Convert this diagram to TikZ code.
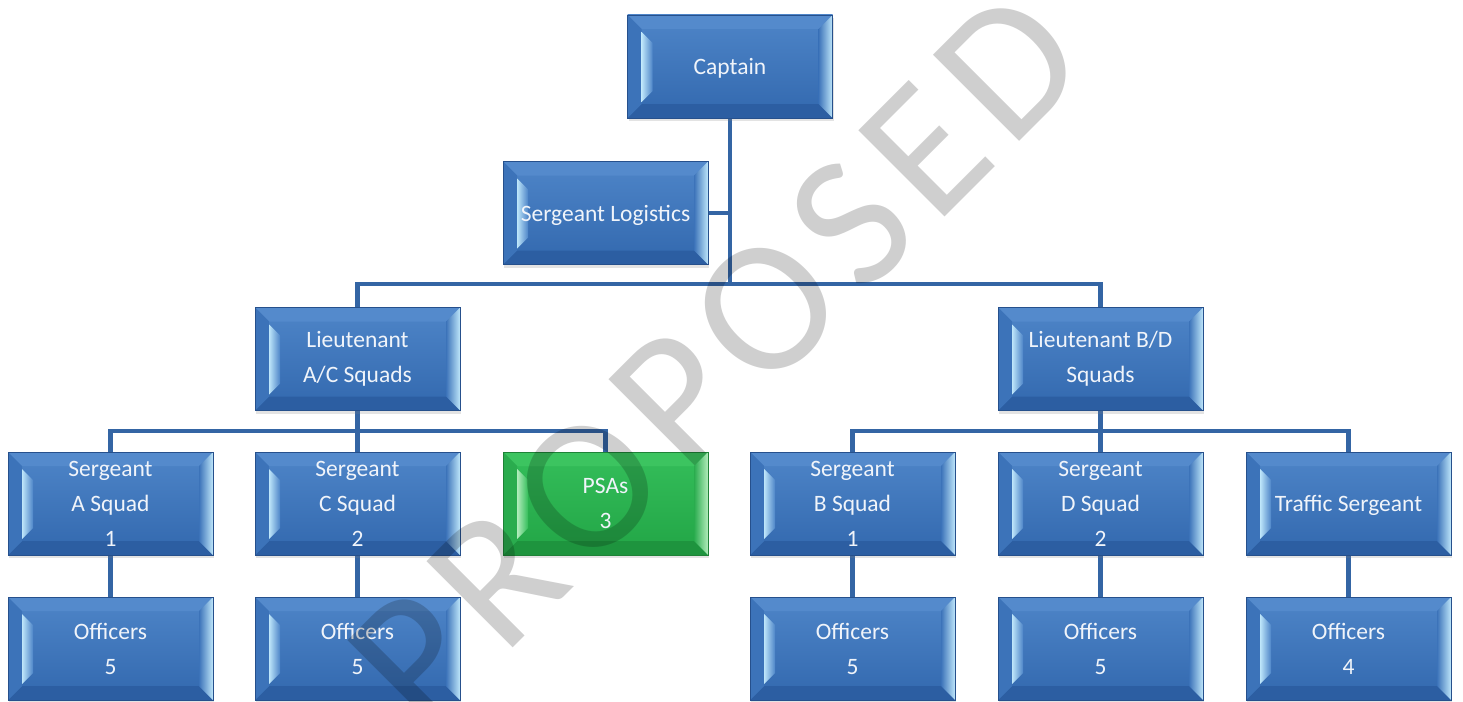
\documentclass[tikz,border=0pt]{standalone}
\usepackage{fontspec}
\setmainfont{Carlito}
\usetikzlibrary{calc,shadows}
\pgfdeclarelayer{bg}\pgfdeclarelayer{fg}
\pgfsetlayers{bg,main,fg}
\definecolor{lineblue}{RGB}{52,101,164}
\definecolor{btop}{RGB}{78,133,200}
\definecolor{bbot}{RGB}{50,104,174}
\definecolor{btopf}{RGB}{84,138,204}
\definecolor{bbotf}{RGB}{44,94,162}
\definecolor{bleft}{RGB}{60,115,185}
\definecolor{blight}{RGB}{190,230,250}
\definecolor{boxedge}{RGB}{38,80,140}
\definecolor{gtop}{RGB}{52,190,90}
\definecolor{gbot}{RGB}{34,165,70}
\definecolor{gtopf}{RGB}{60,196,96}
\definecolor{gbotf}{RGB}{30,148,62}
\definecolor{gleft}{RGB}{42,172,78}
\definecolor{glight}{RGB}{178,236,188}
\definecolor{gedge}{RGB}{30,130,55}
\definecolor{boxtext}{RGB}{240,244,250}
\newcommand\wmk{\kern14pt}
\newcommand\bevelpaint[6]{%
  \coordinate (bNW) at (path picture bounding box.north west);
  \coordinate (bSE) at (path picture bounding box.south east);
  \coordinate (bNE) at (path picture bounding box.north east);
  \coordinate (bSW) at (path picture bounding box.south west);
  \shade[top color=#1,bottom color=#2] (bNW) rectangle (bSE);
  \fill[#3] (bNW) -- (bNE) -- ($(bNE)+(-14pt,-14pt)$) -- ($(bNW)+(14pt,-14pt)$) -- cycle;
  \fill[#4] (bSW) -- (bSE) -- ($(bSE)+(-14pt,14pt)$) -- ($(bSW)+(14pt,14pt)$) -- cycle;
  \fill[#5] (bNW) -- (bSW) -- ($(bSW)+(14pt,14pt)$) -- ($(bNW)+(14pt,-14pt)$) -- cycle;
  \shade[left color=#5, right color=#6] (bNE) -- (bSE) -- ($(bSE)+(-14pt,14pt)$) -- ($(bNE)+(-14pt,-14pt)$) -- cycle;
  \shade[left color=#6, right color=#1] ($(bNW)+(14pt,-17pt)$) -- ($(bNW)+(25pt,-28pt)$) -- ($(bSW)+(25pt,27pt)$) -- ($(bSW)+(14pt,16pt)$) -- cycle;
}
\tikzset{
  box/.style={rectangle, minimum width=205pt, minimum height=103pt, inner sep=0pt,
    align=center, text=boxtext, font=\fontsize{23.5}{35}\selectfont,
    draw=boxedge, line width=0.8pt,
    drop shadow={shadow xshift=1pt, shadow yshift=-3pt, opacity=0.22}},
  bluebox/.style={box, path picture={\bevelpaint{btop}{bbot}{btopf}{bbotf}{bleft}{blight}}},
  greenbox/.style={box, draw=gedge, path picture={\bevelpaint{gtop}{gbot}{gtopf}{gbotf}{gleft}{glight}}},
  oneline/.style={text depth=0pt},
  conn/.style={draw=lineblue, line width=4.5pt},
  watermark/.style={rotate=45, text=black, text opacity=0.19, inner sep=0pt,
    font=\fontsize{190}{190}\selectfont}
}
\begin{document}
\begin{tikzpicture}[x=1pt,y=-1pt]
\useasboundingbox (0,0) rectangle (1463,701);
% boxes
\node[bluebox,oneline] (cap) at (730,66.5) {Captain};
\node[bluebox,oneline] (sl) at (605.5,213) {Sergeant Logistics};
\node[bluebox] (ltac) at (357.5,359) {Lieutenant\\A/C Squads};
\node[bluebox] (ltbd) at (1100.5,359) {Lieutenant B/D\\Squads};
\node[bluebox] (sa) at (110.5,503.5) {Sergeant\\A Squad\\1};
\node[bluebox] (sc) at (357.5,503.5) {Sergeant\\C Squad\\2};
\node[greenbox] (psa) at (605.5,503.5) {PSAs\\3};
\node[bluebox] (sb) at (852.5,503.5) {Sergeant\\B Squad\\1};
\node[bluebox] (sd) at (1100.5,503.5) {Sergeant\\D Squad\\2};
\node[bluebox,oneline] (ts) at (1348.5,503.5) {Traffic Sergeant};
\node[bluebox] (oa) at (110.5,648.5) {Officers\\5};
\node[bluebox] (oc) at (357.5,648.5) {Officers\\5};
\node[bluebox] (ob) at (852.5,648.5) {Officers\\5};
\node[bluebox] (od) at (1100.5,648.5) {Officers\\5};
\node[bluebox] (ot) at (1348.5,648.5) {Officers\\4};
% connectors
\coordinate (bus1) at (730,284);
\coordinate (bus2) at (357.5,431);
\coordinate (bus3) at (1100.5,431);
\begin{pgfonlayer}{bg}
\draw[conn] (cap.south) -- (bus1);
\draw[conn] (sl.east) -- (sl.east -| cap.south);
\draw[conn] (ltac.north) |- (bus1) -| (ltbd.north);
\draw[conn] (ltac.south) -- (sc.north);
\draw[conn] (sa.north) |- (bus2) -| (psa.north);
\draw[conn] (ltbd.south) -- (sd.north);
\draw[conn] (sb.north) |- (bus3) -| (ts.north);
\draw[conn] (sa.south) -- (oa.north);
\draw[conn] (sc.south) -- (oc.north);
\draw[conn] (sb.south) -- (ob.north);
\draw[conn] (sd.south) -- (od.north);
\draw[conn] (ts.south) -- (ot.north);
\end{pgfonlayer}
\begin{pgfonlayer}{fg}
\node[watermark] (wm) at (715.6,359.2) {P\wmk R\wmk O\wmk P\wmk O\wmk S\wmk E\wmk D};
\end{pgfonlayer}
\end{tikzpicture}
\end{document}
